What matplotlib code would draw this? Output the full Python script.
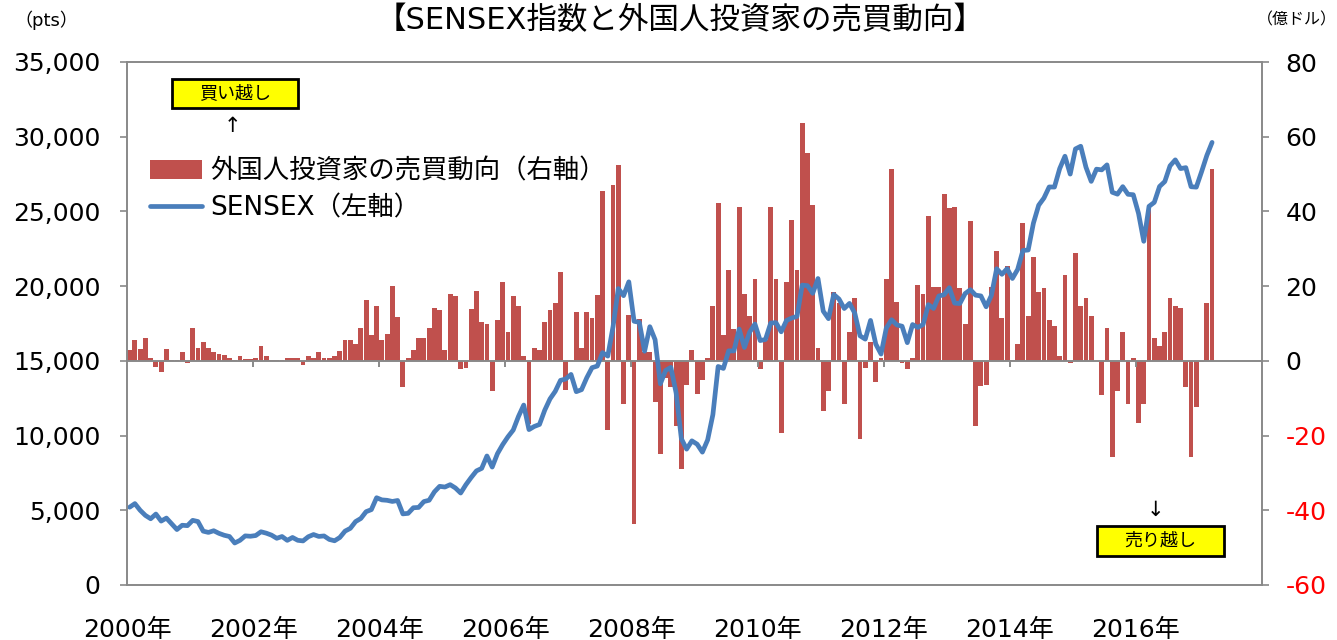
import matplotlib.pyplot as plt
from matplotlib.patches import Rectangle
from matplotlib.ticker import FuncFormatter

plt.rcParams['font.family'] = ['DejaVu Sans', 'Noto Sans CJK JP']
plt.rcParams['axes.unicode_minus'] = False

# Monthly data, Jan 2000 - Mar 2017
# SENSEX month-end (pts)
sensex = [
    5206, 5447, 5001, 4658, 4434, 4748, 4278, 4478, 4091, 3711, 3998, 3972,          # 2000
    4327, 4247, 3604, 3519, 3632, 3457, 3329, 3245, 2812, 2989, 3287, 3262,          # 2001
    3311, 3562, 3469, 3338, 3126, 3245, 2988, 3181, 2991, 2950, 3229, 3377,          # 2002
    3250, 3283, 3049, 2960, 3181, 3607, 3792, 4244, 4453, 4906, 5044, 5839,          # 2003
    5696, 5667, 5591, 5655, 4760, 4795, 5170, 5192, 5584, 5672, 6234, 6603,          # 2004
    6556, 6714, 6493, 6155, 6715, 7194, 7636, 7805, 8634, 7892, 8789, 9398,          # 2005
    9920, 10370, 11280, 12043, 10399, 10609, 10744, 11699, 12454, 12962, 13696, 13787,  # 2006
    14091, 12938, 13072, 13872, 14544, 14651, 15551, 15319, 17291, 19838, 19363, 20287,  # 2007
    17649, 17579, 15644, 17287, 16416, 13462, 14356, 14565, 12860, 9788, 9093, 9647,    # 2008
    9424, 8892, 9709, 11403, 14625, 14494, 15670, 15667, 17127, 15896, 16926, 17465,    # 2009
    16358, 16430, 17528, 17559, 16945, 17701, 17868, 17971, 20069, 20032, 19521, 20509,  # 2010
    18328, 17823, 19445, 19136, 18503, 18846, 18197, 16677, 16454, 17705, 16123, 15455,  # 2011
    17194, 17753, 17404, 17319, 16219, 17430, 17236, 17430, 18763, 18505, 19340, 19427,  # 2012
    19895, 18862, 18836, 19504, 19760, 19396, 19346, 18620, 19380, 21165, 20792, 21171,  # 2013
    20514, 21120, 22386, 22418, 24217, 25414, 25895, 26638, 26631, 27866, 28694, 27499,  # 2014
    29183, 29362, 27957, 27011, 27828, 27781, 28115, 26283, 26155, 26657, 26146, 26118,  # 2015
    24871, 23002, 25342, 25607, 26668, 26999, 28052, 28452, 27866, 27930, 26653, 26626,  # 2016
    27656, 28743, 29621,                                                                  # 2017
]

# Foreign investors' net purchases (100 million USD)
fii_flow = [
    2.9, 5.6, 3.1, 6.0, 0.8, -1.6, -2.9, 3.3, 0.1, 0.1, 2.4, -0.7,              # 2000
    8.7, 3.4, 5.0, 3.4, 2.3, 1.8, 1.7, 0.8, 0.3, 1.2, 0.6, 0.6,                 # 2001
    0.7, 3.9, 1.2, 0.1, 0.1, 0.1, 0.7, 0.7, 0.7, -1.2, 1.2, 0.8,                # 2002
    2.4, 0.7, 0.7, 1.2, 2.7, 5.6, 5.6, 4.5, 8.7, 16.3, 7.0, 14.6,               # 2003
    5.6, 7.1, 20.0, 11.8, -7.1, 0.8, 2.9, 6.0, 6.0, 8.7, 14.2, 13.5,            # 2004
    2.9, 17.8, 17.3, -2.2, -1.8, 14.0, 18.8, 10.4, 9.9, -8.2, 10.9, 21.1,       # 2005
    7.7, 17.3, 14.7, 1.2, -16.8, 3.4, 2.9, 10.4, 13.5, 15.6, 23.8, -7.7,        # 2006
    0.2, 13.1, 3.4, 13.1, 11.4, 17.7, 45.6, -18.4, 47.1, 52.4, -11.5, 12.4,     # 2007
    -43.6, 11.1, 2.4, 2.3, -11.0, -24.9, -4.5, -7.0, -17.4, -29.0, -6.5, 3.0,   # 2008
    -8.8, -5.2, 0.7, 14.6, 42.3, 7.0, 24.2, 8.4, 41.2, 17.9, 12.0, 22.0,        # 2009
    -2.3, 5.5, 41.3, 22.0, -19.4, 21.0, 37.6, 24.3, 63.8, 55.6, 41.8, 3.4,      # 2010
    -13.4, -8.2, 18.5, 15.6, -11.5, 7.7, 16.7, -20.9, -2.0, 5.0, -5.6, 0.7,     # 2011
    22.0, 51.4, 15.8, -0.5, -2.3, 0.7, 20.3, 17.9, 38.7, 19.7, 19.7, 44.6,      # 2012
    41.0, 41.2, 19.4, 9.8, 37.5, -17.4, -6.8, -6.5, 19.7, 29.5, 11.4, 25.4,     # 2013
    0.3, 4.5, 37.0, 12.0, 27.8, 18.5, 19.4, 10.9, 9.3, 1.2, 23.1, -0.6,         # 2014
    28.9, 14.6, 16.7, 12.0, 0.0, -9.2, 8.7, -25.8, -8.1, 7.7, -11.5, 0.7,       # 2015
    -16.7, -11.5, 41.0, 6.1, 4.0, 7.7, 16.8, 14.6, 14.1, -7.1, -25.8, -12.4,    # 2016
    -0.2, 15.6, 51.4,                                                          # 2017
]

year_labels = ["2000年", "2002年", "2004年", "2006年", "2008年",
               "2010年", "2012年", "2014年", "2016年"]

RED = "#C0504D"
BLUE = "#4A7EBB"
GRAY = "#898989"
N_SLOTS = 216  # axis runs Jan 2000 - Dec 2017

x = list(range(len(sensex)))
year_pos = [k * 24 - 0.5 for k in range(len(year_labels))]

fig = plt.figure(figsize=(13.37, 6.4), dpi=100)
ax = fig.add_axes([127 / 1337, 55 / 640, 1135 / 1337, 523 / 640])
ax2 = ax.twinx()

bars = ax2.bar(x, fii_flow, width=0.92, color=RED, zorder=2)
ax2.axhline(0, color=GRAY, lw=1.4, zorder=3)
ax2.vlines(year_pos[1:], -1.7, 0, color=GRAY, lw=1.4, zorder=3)

line, = ax.plot(x, sensex, color=BLUE, lw=3.4, solid_joinstyle="round",
                solid_capstyle="round")
ax.set_zorder(ax2.get_zorder() + 1)
ax.patch.set_visible(False)

ax.set_xlim(-0.5, N_SLOTS - 0.5)
ax.set_ylim(0, 35000)
ax2.set_ylim(-60, 80)

ax.set_yticks(range(0, 35001, 5000))
ax.yaxis.set_major_formatter(FuncFormatter(lambda v, p: f"{v:,.0f}"))
ax2.set_yticks(range(-60, 81, 20))
for lbl, v in zip(ax2.get_yticklabels(), range(-60, 81, 20)):
    lbl.set_color("#FF0000" if v < 0 else "black")

ax.set_xticks(year_pos)
ax.set_xticklabels(year_labels)
ax.tick_params(axis="x", length=0, pad=24, labelsize=18)
ax.tick_params(axis="y", length=5, width=1.2, color=GRAY, pad=14, labelsize=18)
ax2.tick_params(axis="y", length=5, width=1.2, color=GRAY, pad=12, labelsize=18)

for a in (ax, ax2):
    for sp in a.spines.values():
        sp.set_color(GRAY)
        sp.set_linewidth(1.2)

ax.legend([bars, line], ["外国人投資家の売買動向（右軸）", "SENSEX（左軸）"],
          loc="upper left", bbox_to_anchor=(0.02, 0.815), frameon=False,
          fontsize=19, handlelength=2.0, handletextpad=0.28, labelspacing=0.4,
          borderaxespad=0, borderpad=0)

fig.text(680 / 1337, 1 - 20 / 640, "【SENSEX指数と外国人投資家の売買動向】",
         ha="center", va="center", fontsize=22)
fig.text(46 / 1337, 1 - 20 / 640, "（pts）", ha="center", va="center", fontsize=13)
fig.text(1297 / 1337, 1 - 20 / 640, "（億ドル）", ha="center", va="center", fontsize=11.5)

# buy / sell marker boxes
for (bx, by, bw, bh), label in [((172, 79, 126, 29), "買い越し"),
                               ((1097, 526, 127, 30), "売り越し")]:
    fig.patches.append(Rectangle((bx / 1337, 1 - (by + bh) / 640), bw / 1337, bh / 640,
                                 transform=fig.transFigure, facecolor="#FFFF00",
                                 edgecolor="black", lw=2, zorder=5))
    fig.text((bx + bw / 2) / 1337, 1 - (by + bh / 2) / 640, label,
             ha="center", va="center", fontsize=13, zorder=6)
fig.text(232 / 1337, 1 - 126 / 640, "↑", ha="center", va="center", fontsize=15)
fig.text(1155 / 1337, 1 - 510 / 640, "↓", ha="center", va="center", fontsize=15)

fig.savefig("out.png", dpi=100, facecolor="white")
